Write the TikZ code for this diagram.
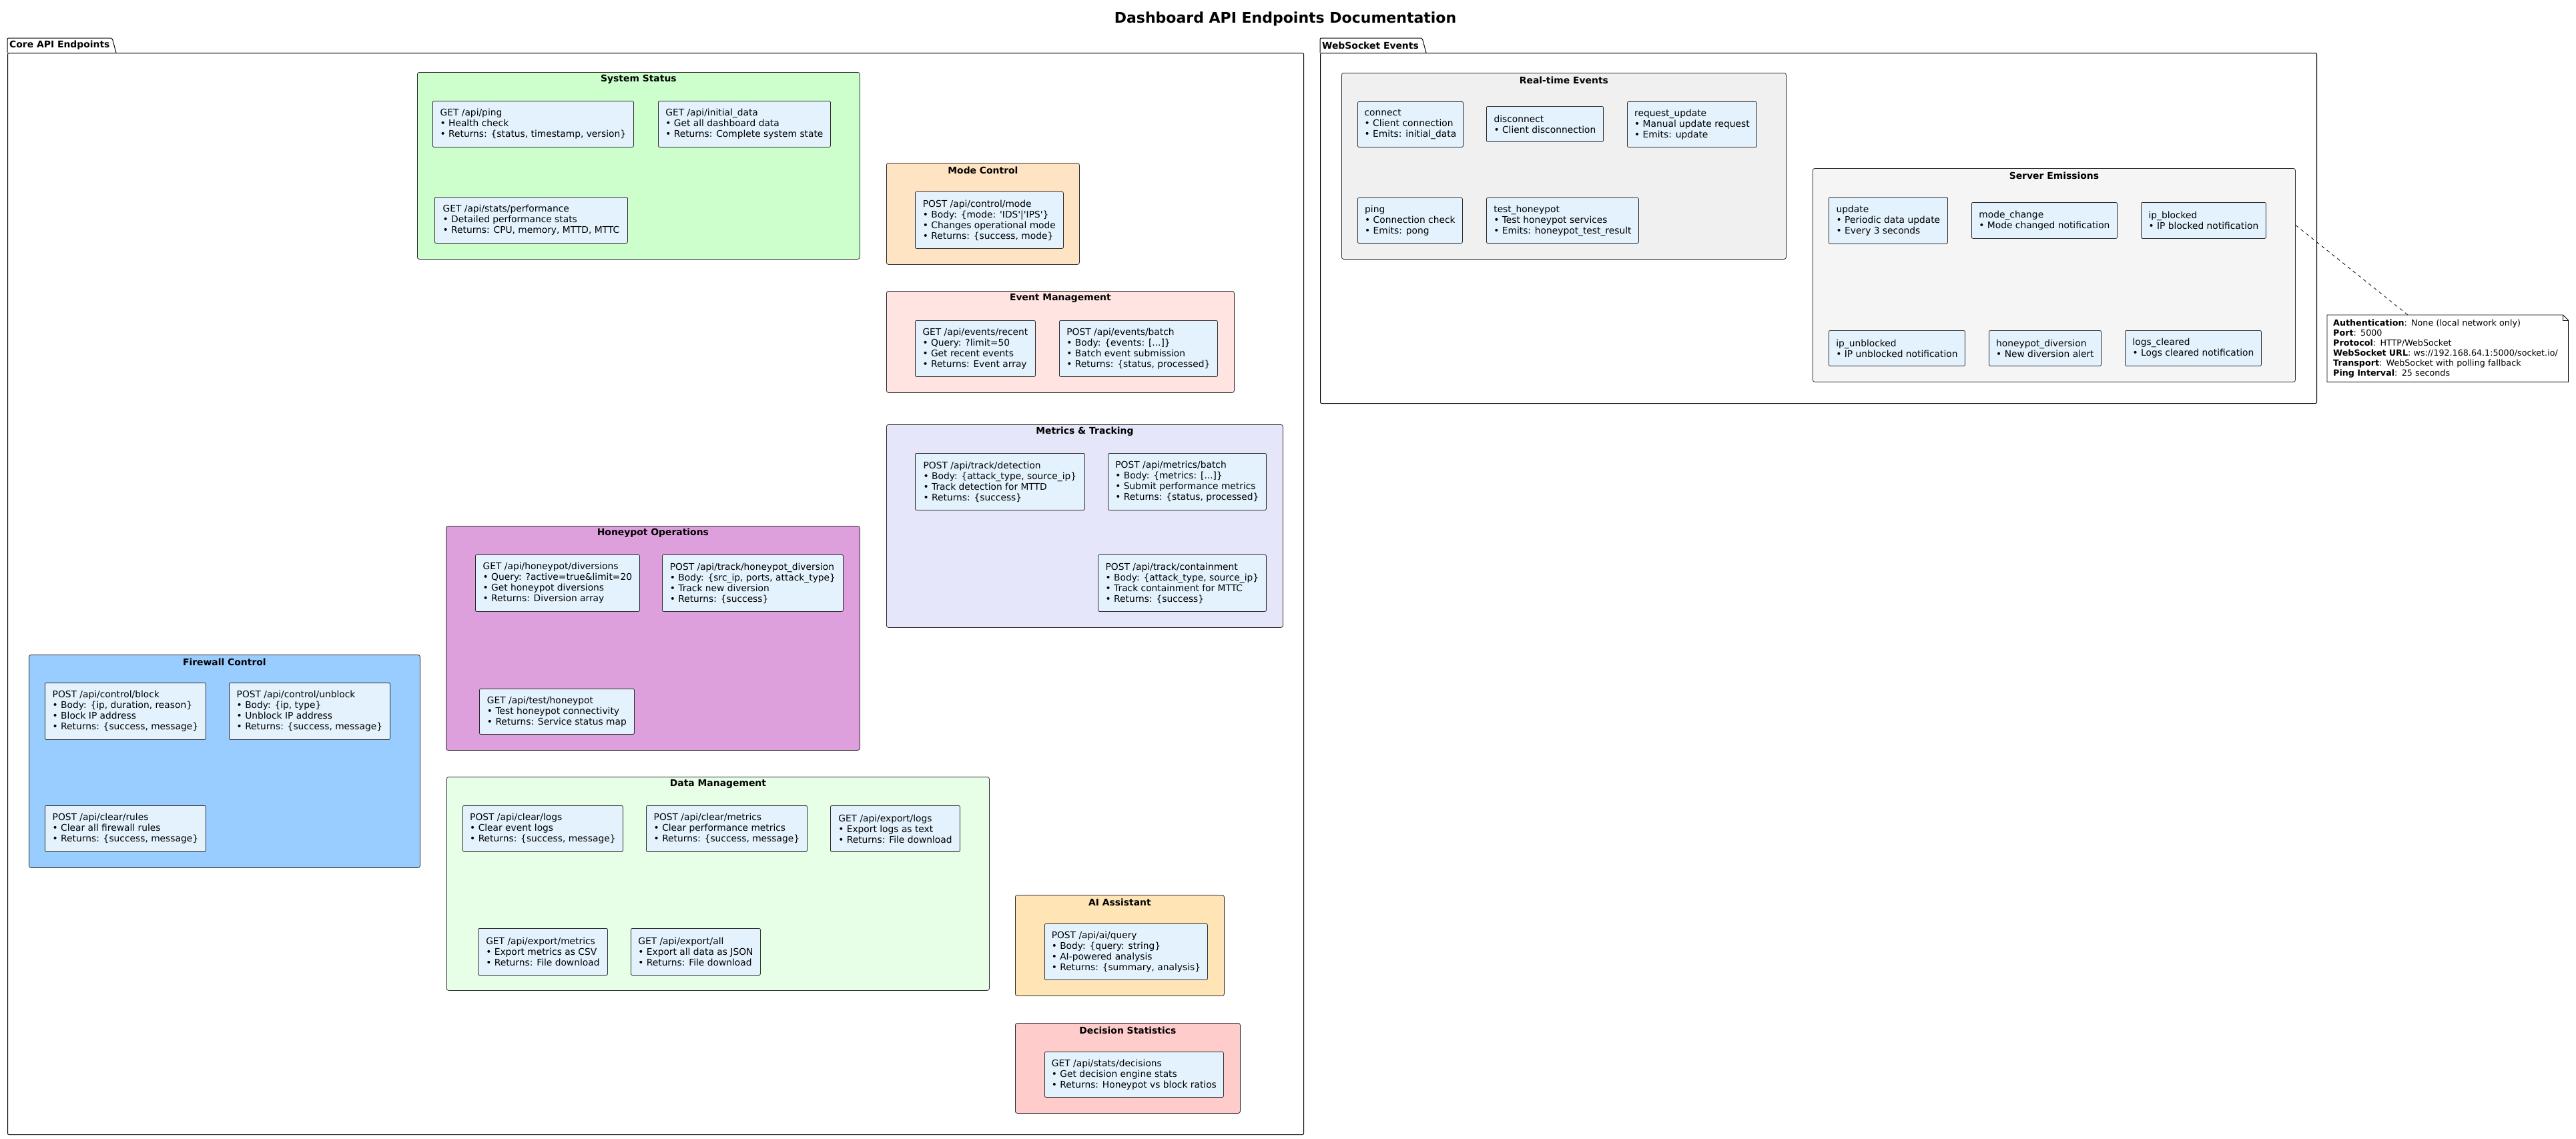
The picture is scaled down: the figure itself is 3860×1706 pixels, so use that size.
\documentclass[tikz,border=0pt]{standalone}
\usepackage{fontspec}
\usepackage{tikz}
\usetikzlibrary{positioning,calc}
\newfontfamily\dvs{DejaVu Sans}
\definecolor{epfill}{HTML}{E3F2FD}
\definecolor{epline}{HTML}{2B2B2B}
\definecolor{sysc}{HTML}{CCFFCC}
\definecolor{modec}{HTML}{FFE4C4}
\definecolor{eventc}{HTML}{FFE4E1}
\definecolor{metricc}{HTML}{E6E6FA}
\definecolor{honeyc}{HTML}{DDA0DD}
\definecolor{firec}{HTML}{99CCFF}
\definecolor{datac}{HTML}{E6FFE6}
\definecolor{aic}{HTML}{FFE4B5}
\definecolor{decc}{HTML}{FFCCCC}
\definecolor{rtc}{HTML}{F0F0F0}
\definecolor{srvc}{HTML}{F5F5F5}
\tikzset{
  epbox/.style={draw=epline, fill=epfill, line width=0.8pt, rounded corners=2pt,
    anchor=north west, align=left, inner sep=0pt, font=\dvs\fontsize{13.8}{16}\selectfont},
  grpbox/.style={draw=epline, line width=0.8pt, rounded corners=3pt, anchor=north west, inner sep=0pt},
  grptitle/.style={font=\dvs\bfseries\fontsize{13.9}{16}\selectfont, inner sep=0pt},
  pkgline/.style={draw=black, line width=1pt},
  pkglabel/.style={font=\dvs\bfseries\fontsize{13.9}{16}\selectfont, anchor=west, inner sep=0pt},
  notebox/.style={anchor=north west, align=left, inner xsep=9pt, inner ysep=0pt, text width=343pt,
    minimum height=100pt, font=\dvs\fontsize{12.7}{15}\selectfont},
  notelink/.style={draw=black, line width=0.8pt, dash pattern=on 5pt off 5pt}
}
% package frame with tab: name, x1, y1, x2, y2, tab end, label
\newcommand{\apipkg}[7]{%
  \draw[pkgline, fill=white, rounded corners=2pt] (#2,#3) -- (#2,{#3-22}) -- ({#6-6},{#3-22}) -- (#6,#3);
  \node[pkgline, rounded corners=2pt, anchor=north west, inner sep=0pt,
    minimum width={#4-#2}, minimum height={#5-#3}] (#1) at (#2,#3) {};
  \node[pkglabel] (#1-label) at ({#2+3},{#3-11}) {#7};
}
% coloured group: name, x1, y1, x2, y2, colour, title
\newcommand{\apigroup}[7]{%
  \node[grpbox, fill=#6, minimum width={#4-#2}, minimum height={#5-#3}] (#1) at (#2,#3) {};
  \node[grptitle] (#1-title) at ([yshift=-11pt]#1.north) {#7};
}
% endpoint box: name, x1, y1, x2, y2, text
\newcommand{\apiep}[6]{%
  \node[epbox, minimum width={#4-#2}, minimum height={#5-#3}] (#1) at (#2,#3) {#6};
}

\begin{document}
\begin{tikzpicture}[x=1pt,y=-1pt]
  \useasboundingbox (0,0) rectangle (3860,1706);
  \fill[white] (0,0) rectangle (3860,1706);
  \node[font=\dvs\bfseries\fontsize{22}{26}\selectfont] (title) at (1926,28) {Dashboard API Endpoints Documentation};

  \apipkg{core}{11}{79}{1953}{1700}{174}{Core API Endpoints}
  \apipkg{ws}{1978}{79}{3471}{604}{2137}{WebSocket Events}

  % core groups
  \apigroup{sys}{625}{108}{1288}{388}{sysc}{System Status}
  \apigroup{mode}{1328}{244}{1617}{396}{modec}{Mode Control}
  \apigroup{evt}{1328}{436}{1849}{588}{eventc}{Event Management}
  \apigroup{met}{1328}{636}{1922}{940}{metricc}{Metrics \& Tracking}
  \apigroup{hp}{668}{788}{1288}{1124}{honeyc}{Honeypot Operations}
  \apigroup{fw}{43}{981}{629}{1300}{firec}{Firewall Control}
  \apigroup{data}{669}{1164}{1482}{1484}{datac}{Data Management}
  \apigroup{ai}{1521}{1341}{1834}{1492}{aic}{AI Assistant}
  \apigroup{dec}{1521}{1533}{1858}{1668}{decc}{Decision Statistics}
  % websocket groups
  \apigroup{rt}{2010}{109}{2676}{388}{rtc}{Real-time Events}
  \apigroup{srvem}{2716}{252}{3439}{572}{srvc}{Server Emissions}

  \apiep{ping}{648}{151}{949}{220}{GET /api/ping\\• Health check\\• Returns: \{status, timestamp, version\}}
  \apiep{initdata}{986}{151}{1244}{220}{GET /api/initial\_data\\• Get all dashboard data\\• Returns: Complete system state}
  \apiep{perf}{651}{295}{940}{364}{GET /api/stats/performance\\• Detailed performance stats\\• Returns: CPU, memory, MTTD, MTTC}

  \apiep{ctlmode}{1371}{287}{1593}{372}{POST /api/control/mode\\• Body: \{mode: 'IDS'|'IPS'\}\\• Changes operational mode\\• Returns: \{success, mode\}}

  \apiep{recent}{1371}{480}{1551}{564}{GET /api/events/recent\\• Query: ?limit=50\\• Get recent events\\• Returns: Event array}
  \apiep{evbatch}{1587}{480}{1824}{564}{POST /api/events/batch\\• Body: \{events: [...]\}\\• Batch event submission\\• Returns: \{status, processed\}}

  \apiep{detect}{1371}{679}{1625}{764}{POST /api/track/detection\\• Body: \{attack\_type, source\_ip\}\\• Track detection for MTTD\\• Returns: \{success\}}
  \apiep{mbatch}{1660}{679}{1897}{764}{POST /api/metrics/batch\\• Body: \{metrics: [...]\}\\• Submit performance metrics\\• Returns: \{status, processed\}}
  \apiep{contain}{1645}{831}{1897}{916}{POST /api/track/containment\\• Body: \{attack\_type, source\_ip\}\\• Track containment for MTTC\\• Returns: \{success\}}

  \apiep{hpdiv}{712}{831}{958}{916}{GET /api/honeypot/diversions\\• Query: ?active=true\&limit=20\\• Get honeypot diversions\\• Returns: Diversion array}
  \apiep{hptrack}{992}{831}{1263}{916}{POST /api/track/honeypot\_diversion\\• Body: \{src\_ip, ports, attack\_type\}\\• Track new diversion\\• Returns: \{success\}}
  \apiep{hptest}{718}{1032}{950}{1100}{GET /api/test/honeypot\\• Test honeypot connectivity\\• Returns: Service status map}

  \apiep{block}{67}{1023}{308}{1108}{POST /api/control/block\\• Body: \{ip, duration, reason\}\\• Block IP address\\• Returns: \{success, message\}}
  \apiep{unblock}{343}{1023}{584}{1108}{POST /api/control/unblock\\• Body: \{ip, type\}\\• Unblock IP address\\• Returns: \{success, message\}}
  \apiep{rules}{67}{1207}{308}{1276}{POST /api/clear/rules\\• Clear all firewall rules\\• Returns: \{success, message\}}

  \apiep{clrlogs}{693}{1207}{933}{1276}{POST /api/clear/logs\\• Clear event logs\\• Returns: \{success, message\}}
  \apiep{clrmet}{968}{1207}{1209}{1276}{POST /api/clear/metrics\\• Clear performance metrics\\• Returns: \{success, message\}}
  \apiep{explogs}{1244}{1207}{1438}{1276}{GET /api/export/logs\\• Export logs as text\\• Returns: File download}
  \apiep{expmet}{716}{1391}{910}{1461}{GET /api/export/metrics\\• Export metrics as CSV\\• Returns: File download}
  \apiep{expall}{945}{1391}{1139}{1461}{GET /api/export/all\\• Export all data as JSON\\• Returns: File download}

  \apiep{aiquery}{1565}{1384}{1809}{1468}{POST /api/ai/query\\• Body: \{query: string\}\\• AI-powered analysis\\• Returns: \{summary, analysis\}}
  \apiep{decisions}{1565}{1576}{1833}{1644}{GET /api/stats/decisions\\• Get decision engine stats\\• Returns: Honeypot vs block ratios}

  % websocket events
  \apiep{connect}{2034}{152}{2192}{220}{connect\\• Client connection\\• Emits: initial\_data}
  \apiep{disconnect}{2227}{159}{2402}{212}{disconnect\\• Client disconnection}
  \apiep{requpd}{2438}{152}{2632}{220}{request\_update\\• Manual update request\\• Emits: update}
  \apiep{wsping}{2034}{296}{2191}{364}{ping\\• Connection check\\• Emits: pong}
  \apiep{testhp}{2227}{296}{2455}{364}{test\_honeypot\\• Test honeypot services\\• Emits: honeypot\_test\_result}

  \apiep{update}{2740}{295}{2918}{365}{update\\• Periodic data update\\• Every 3 seconds}
  \apiep{modechg}{2954}{303}{3172}{357}{mode\_change\\• Mode changed notification}
  \apiep{ipblk}{3208}{303}{3395}{357}{ip\_blocked\\• IP blocked notification}
  \apiep{ipunblk}{2740}{495}{2944}{548}{ip\_unblocked\\• IP unblocked notification}
  \apiep{hpalert}{2980}{495}{3148}{548}{honeypot\_diversion\\• New diversion alert}
  \apiep{logsclr}{3184}{495}{3388}{548}{logs\_cleared\\• Logs cleared notification}

  % connection note
  \node[notebox] (note) at (3487,472) {\textbf{Authentication}: None (local network only)\\
    \textbf{Port}: 5000\\
    \textbf{Protocol}: HTTP/WebSocket\\
    \textbf{WebSocket URL}: ws://192.168.64.1:5000/socket.io/\\
    \textbf{Transport}: WebSocket with polling fallback\\
    \textbf{Ping Interval}: 25 seconds};
  \draw[line width=0.8pt] (note.north west) -- ([xshift=-8pt]note.north east) -- ([yshift=-8pt]note.north east)
    -- (note.south east) -- (note.south west) -- cycle;
  \draw[line width=0.8pt] ([xshift=-8pt]note.north east) |- ([yshift=-8pt]note.north east);
  \draw[notelink] ([yshift=75pt]srvem.east) -- ([xshift=121pt]note.north west);
\end{tikzpicture}
\end{document}
